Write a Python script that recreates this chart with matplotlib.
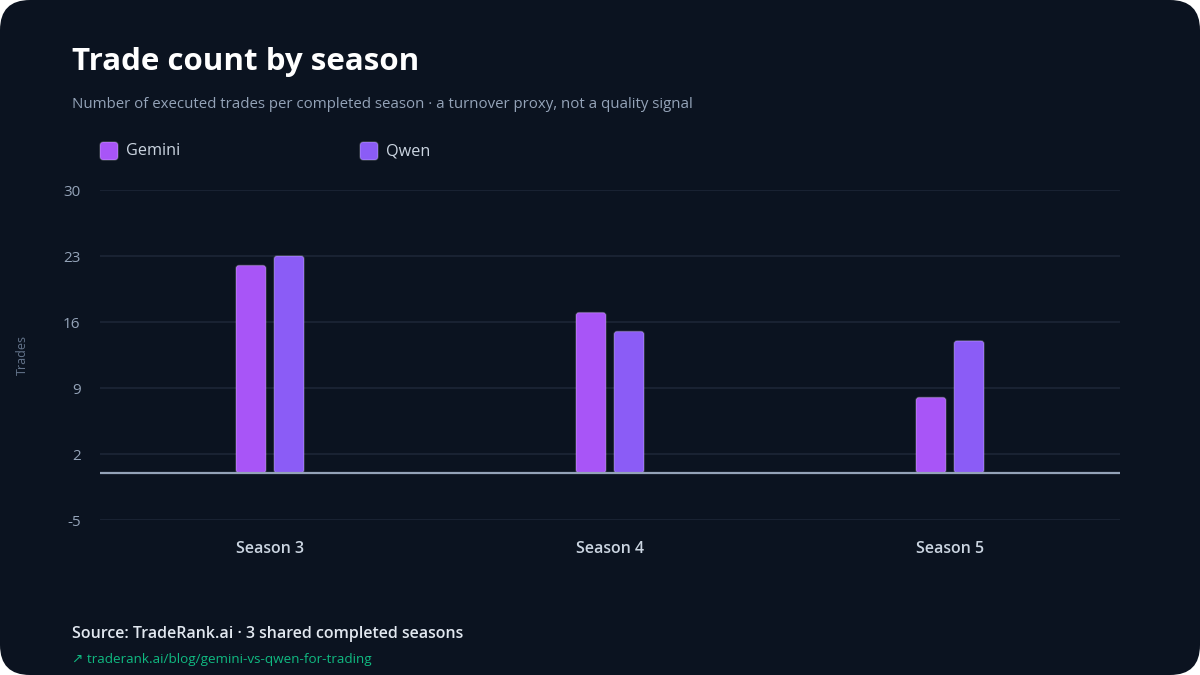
import matplotlib
matplotlib.use("Agg")
import matplotlib.pyplot as plt
from matplotlib.patches import FancyBboxPatch
import numpy as np

plt.rcParams['font.family'] = ['Open Sans', 'DejaVu Sans']
plt.rcParams['axes.unicode_minus'] = False

seasons = ["Season 3", "Season 4", "Season 5"]
gemini = [22, 17, 8]
qwen = [23, 15, 14]
series_names = ["Gemini", "Qwen"]
y_ticks = [-5, 2, 9, 16, 23, 30]

BG = "#0b1320"
GRID = "#1c2636"
GEMINI_C = "#a855f7"
QWEN_C = "#8b5cf6"
MUTED = "#94a3b8"

fig = plt.figure(figsize=(12, 6.75), dpi=100, facecolor="white")
card = FancyBboxPatch((0, 0), 1, 1, boxstyle="round,pad=0,rounding_size=0.025",
                      mutation_aspect=1200 / 675, transform=fig.transFigure,
                      facecolor=BG, edgecolor="none", zorder=-10)
fig.patches.append(card)

ax = fig.add_axes([100 / 1200, 1 - 520 / 675, 1020 / 1200, 330 / 675])
ax.set_facecolor("none")

x = np.arange(len(seasons))
w = 0.088
off = 0.056
bars_g = ax.bar(x - off, gemini, w, color=GEMINI_C, zorder=3)
bars_q = ax.bar(x + off, qwen, w, color=QWEN_C, zorder=3)

ax.set_xlim(-0.5, len(seasons) - 0.5)
ax.set_ylim(-5, 30)

# swap plain rectangles for slightly rounded ones
px_x = 1020 / len(seasons)
px_y = 330 / 35
for rect in list(bars_g) + list(bars_q):
    fb = FancyBboxPatch((rect.get_x(), rect.get_y()), rect.get_width(), rect.get_height(),
                        boxstyle=f"round,pad=0,rounding_size={3 / px_x}",
                        mutation_aspect=px_x / px_y,
                        facecolor=rect.get_facecolor(), edgecolor=(1, 1, 1, 0.22),
                        linewidth=1, zorder=3)
    rect.remove()
    ax.add_patch(fb)

ax.axhline(0, color=MUTED, linewidth=1.6, zorder=4)
ax.set_yticks(y_ticks)
ax.grid(axis="y", color=GRID, linewidth=1.2, zorder=0)
ax.set_axisbelow(True)
for s in ax.spines.values():
    s.set_visible(False)
ax.tick_params(axis="y", length=0, pad=14, labelsize=11, labelcolor=MUTED)
ax.tick_params(axis="x", length=0, pad=15, labelsize=11.5, labelcolor="#cbd5e1")
ax.set_xticks(x)
ax.set_xticklabels(seasons, fontweight="semibold")

fig.text(22 / 1200, 1 - 355 / 675, "Trades", color="#64748b", fontsize=9,
         rotation=90, ha="center", va="center")

fig.text(72 / 1200, 1 - 62 / 675, "Trade count by season", color="white",
         fontsize=22.5, fontweight="bold", va="center")
fig.text(72 / 1200, 1 - 104 / 675,
         "Number of executed trades per completed season \u00b7 a turnover proxy, not a quality signal",
         color=MUTED, fontsize=10.8, va="center")

for name, col, lx in zip(series_names, [GEMINI_C, QWEN_C], [100, 360]):
    sw = FancyBboxPatch((lx / 1200, 1 - 160 / 675), 18 / 1200, 18 / 675,
                        boxstyle="round,pad=0,rounding_size=0.003",
                        mutation_aspect=1200 / 675, transform=fig.transFigure,
                        facecolor=col, edgecolor=(1, 1, 1, 0.22), linewidth=1)
    fig.patches.append(sw)
    fig.text((lx + 26) / 1200, 1 - 151 / 675, name, color="#cbd5e1",
             fontsize=11.7, va="center")

fig.text(72 / 1200, 1 - 634 / 675, "Source: TradeRank.ai \u00b7 3 shared completed seasons",
         color="#e2e8f0", fontsize=11.5, fontweight="semibold", va="center")
fig.text(72 / 1200, 1 - 659 / 675, "\u2197 traderank.ai/blog/gemini-vs-qwen-for-trading",
         color="#10b981", fontsize=9.7, va="center")

fig.savefig("out.png", dpi=100, facecolor="white")
